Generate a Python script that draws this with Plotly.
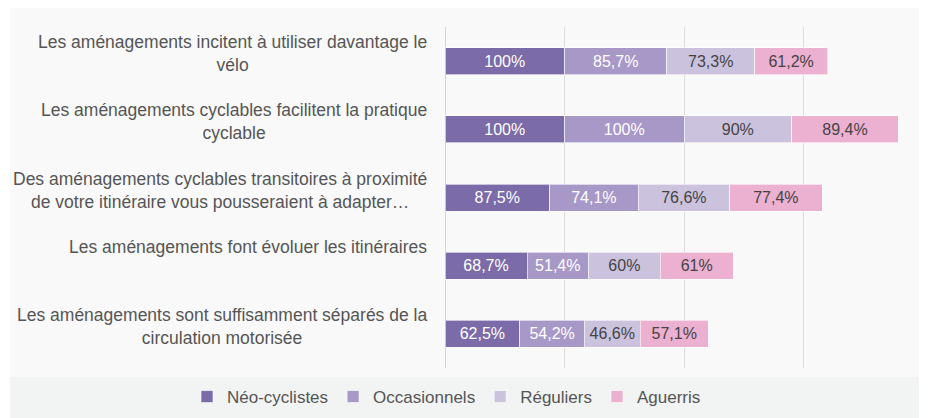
import plotly.graph_objects as go

categories = [
    "Les aménagements incitent à utiliser davantage le<br>vélo",
    "Les aménagements cyclables facilitent la pratique<br>cyclable",
    "Des aménagements cyclables transitoires à proximité<br>de votre itinéraire vous pousseraient à adapter…",
    "Les aménagements font évoluer les itinéraires",
    "Les aménagements sont suffisamment séparés de la<br>circulation motorisée",
]
series_names = ["Néo-cyclistes", "Occasionnels", "Réguliers", "Aguerris"]
neo = [100, 100, 87.5, 68.7, 62.5]
occasionnels = [85.7, 100, 74.1, 51.4, 54.2]
reguliers = [73.3, 90, 76.6, 60, 46.6]
aguerris = [61.2, 89.4, 77.4, 61, 57.1]

colors = ["#7b6ba8", "#a898c8", "#cbc2de", "#ecb0d0"]
text_colors = ["#ffffff", "#ffffff", "#444444", "#444444"]

W, H = 928, 418
OFF = 8  # page body margin in the browser
# target pixel positions (in the screenshot)
PLOT_L, PLOT_R, PLOT_T, PLOT_B = 445, 919, 27, 368
L = PLOT_L - OFF
R = W - (PLOT_R - OFF)
T = PLOT_T - OFF
B = H - (PLOT_B - OFF)
pw = W - L - R
ph = H - T - B
px_per_unit = 1.195  # pixels per percent

FONT = "Liberation Sans, Arial, sans-serif"


def fx(px):
    return (px - PLOT_L) / pw


def fy(py):
    return (PLOT_B - py) / ph


def fmt(v):
    return f"{v:g}".replace(".", ",") + "%"


fig = go.Figure()
for name, vals, c, tc in zip(series_names, [neo, occasionnels, reguliers, aguerris], colors, text_colors):
    fig.add_trace(go.Bar(
        name=name,
        y=categories,
        x=vals,
        orientation="h",
        marker=dict(color=c, line=dict(color="rgba(255,255,255,0.6)", width=1)),
        text=[fmt(v) for v in vals],
        textposition="inside",
        insidetextanchor="middle",
        constraintext="none",
        textangle=0,
        textfont=dict(color=tc, size=16, family=FONT),
        hoverinfo="skip",
    ))

annotations = []
for cat in categories:
    annotations.append(dict(
        x=0, xref="paper", xanchor="right", xshift=-16,
        y=cat, yref="y", yanchor="top", yshift=31,
        text=cat, showarrow=False, align="center",
        font=dict(size=17.5, color="#555555", family=FONT),
    ))

shapes = [
    dict(type="rect", xref="paper", yref="paper", x0=fx(10), x1=fx(919), y0=fy(377), y1=fy(4),
         fillcolor="#f9f9f9", line=dict(width=0), layer="below"),
    dict(type="rect", xref="paper", yref="paper", x0=fx(10), x1=fx(919), y0=fy(430), y1=fy(377),
         fillcolor="#f2f4f4", line=dict(width=0), layer="below"),
]

fig.update_layout(
    width=W, height=H,
    margin=dict(l=L, r=R, t=T, b=B, pad=0, autoexpand=False),
    barmode="stack",
    bargap=0.604,
    paper_bgcolor="#ffffff",
    plot_bgcolor="rgba(0,0,0,0)",
    showlegend=True,
    legend=dict(
        orientation="h", x=fx(187), xanchor="left", y=fy(397), yanchor="middle",
        font=dict(size=17, color="#555555", family=FONT),
        bgcolor="rgba(0,0,0,0)", itemwidth=30, traceorder="normal",
    ),
    xaxis=dict(
        range=[0, pw / px_per_unit], dtick=100, tick0=0,
        showticklabels=False, ticks="", showgrid=True, gridcolor="#dddddd", gridwidth=1,
        zeroline=True, zerolinecolor="#d4d4d4", zerolinewidth=1, showline=False, fixedrange=True,
    ),
    yaxis=dict(
        autorange="reversed", showticklabels=False, ticks="", showgrid=False,
        showline=False, zeroline=False, fixedrange=True,
    ),
    annotations=annotations,
    shapes=shapes,
    font=dict(family=FONT),
)

fig.write_html("out.html")
